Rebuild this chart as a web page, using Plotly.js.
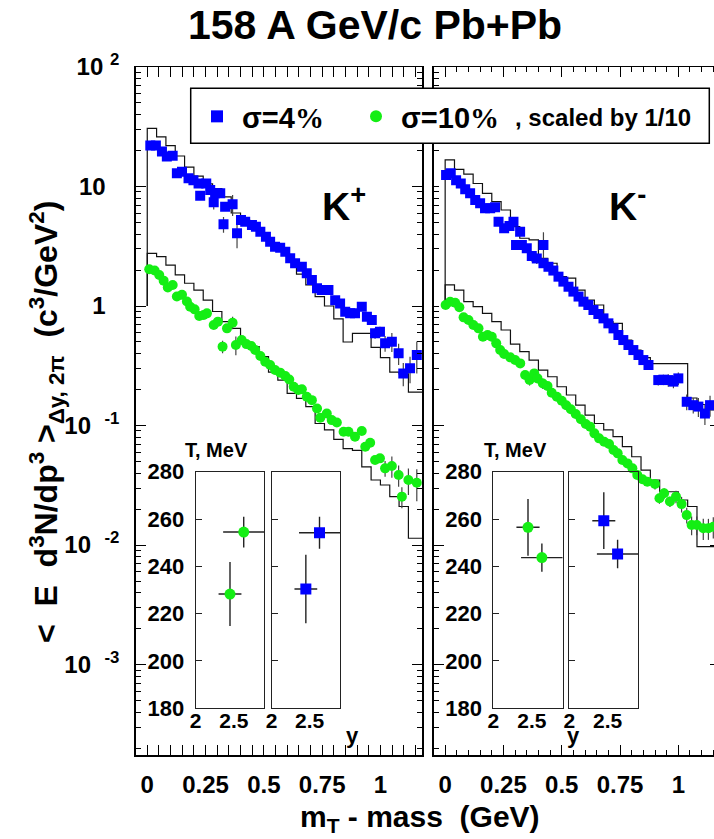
<!DOCTYPE html>
<html><head><meta charset="utf-8">
<script src="https://cdn.plot.ly/plotly-3.0.1.min.js"></script>
<style>html,body{margin:0;padding:0;overflow:hidden;background:#fff}#chart{width:722px;height:839px}</style>
</head><body><div id="chart"></div>
<script>
// ---------------- DATA ----------------
// K+ , sigma = 4% (blue squares)
const kpX4 = [0.013,0.037,0.063,0.084,0.109,0.127,0.149,0.177,0.198,0.220,0.227,0.253,0.270,0.285,0.291,0.313,0.327,0.334,0.366,0.385,0.402,0.420,0.449,0.466,0.485,0.509,0.527,0.548,0.570,0.592,0.613,0.634,0.663,0.684,0.706,0.728,0.748,0.777,0.806,0.827,0.849,0.870,0.891,0.920,0.942,0.963,0.977,0.998,1.020,1.049,1.078,1.098,1.127,1.156];
const kpY4 = [22.0,22.0,19.6,17.8,18.1,12.9,13.3,11.7,11.3,10.6,8.38,10.6,9.35,7.37,8.77,8.77,4.83,6.78,7.09,4.06,5.25,5.08,4.76,4.61,4.19,3.80,3.45,3.14,3.08,2.85,2.51,2.28,2.13,1.88,1.65,1.41,1.36,1.36,1.12,1.05,0.897,0.868,0.868,0.987,0.814,0.764,0.591,0.610,0.487,0.503,0.402,0.273,0.301,0.389];
const kpE4 = [0,0,0,0,0,0,0,0,0,0,0,0,0,0.13,0,0,0.15,0,0.2,0.25,0,0,0,0,0,0,0,0,0,0,0,0,0,0,0,0,0,0,0,0,0.05,0.05,0.05,0.08,0.06,0.06,0.1,0.1,0.15,0.18,0.2,0.22,0.25,0.3];
// K+ , sigma = 10% scaled by 1/10 (green circles)
const kpX10 = [0.0085,0.0316,0.0515,0.0703,0.0882,0.109,0.127,0.149,0.170,0.184,0.203,0.223,0.242,0.256,0.285,0.303,0.323,0.342,0.366,0.380,0.405,0.425,0.446,0.463,0.485,0.506,0.527,0.548,0.570,0.592,0.609,0.628,0.648,0.663,0.684,0.706,0.728,0.742,0.770,0.791,0.813,0.842,0.863,0.891,0.920,0.935,0.956,0.977,0.998,1.020,1.049,1.078,1.092,1.120,1.156];
const kpY10 = [2.03,1.98,1.82,1.63,1.43,1.50,1.20,1.24,1.09,0.987,0.938,0.825,0.841,0.868,0.694,0.740,0.457,0.650,0.725,0.472,0.519,0.48,0.463,0.428,0.382,0.342,0.321,0.291,0.277,0.260,0.243,0.211,0.198,0.201,0.174,0.163,0.139,0.116,0.126,0.111,0.106,0.0888,0.0888,0.0806,0.0900,0.0665,0.0718,0.0514,0.0531,0.0438,0.0458,0.0385,0.0254,0.0350,0.0332];
const kpE10 = [0,0,0,0,0,0,0,0,0,0,0,0,0,0,0,0,0.12,0,0.12,0.18,0,0,0,0,0,0,0,0,0,0,0,0,0,0,0,0,0,0,0,0,0,0,0,0,0,0,0,0,0,0.15,0.2,0.2,0.2,0.25,0.3];
// K- , sigma = 4%
const kmX4 = [0.004,0.024,0.047,0.067,0.086,0.107,0.129,0.150,0.171,0.193,0.214,0.229,0.253,0.276,0.293,0.304,0.3215,0.329,0.350,0.3715,0.393,0.4215,0.4215,0.443,0.464,0.486,0.507,0.529,0.550,0.572,0.593,0.614,0.636,0.657,0.679,0.700,0.722,0.743,0.764,0.786,0.807,0.829,0.850,0.872,0.914,0.936,0.957,0.979,1.000,1.036,1.064,1.086,1.114,1.136];
const kmY4 = [12.5,12.9,11.3,10.6,9.47,8.77,7.71,7.23,6.57,6.57,6.69,5.08,4.47,4.67,5.08,3.24,4.19,3.24,3.04,2.62,2.50,3.24,2.28,2.13,1.98,1.76,1.60,1.45,1.32,1.20,1.087,1.02,0.926,0.857,0.788,0.716,0.650,0.572,0.519,0.472,0.428,0.389,0.353,0.321,0.240,0.242,0.240,0.233,0.248,0.158,0.148,0.144,0.126,0.148];
const kmE4 = [0,0,0,0,0,0,0,0,0,0,0,0,0,0,0,0.08,0,0.08,0.06,0.1,0.1,0.28,0,0,0,0,0,0,0,0,0,0,0,0,0,0,0,0,0,0,0,0,0,0,0.1,0.1,0.12,0.12,0.12,0.15,0.15,0.18,0.2,0.2];
// K- , sigma = 10% scaled by 1/10
const kmX10 = [0.002,0.0214,0.043,0.061,0.079,0.100,0.121,0.143,0.162,0.182,0.200,0.219,0.236,0.253,0.279,0.300,0.322,0.343,0.362,0.382,0.396,0.419,0.439,0.457,0.479,0.500,0.519,0.539,0.560,0.582,0.603,0.622,0.640,0.660,0.682,0.703,0.722,0.740,0.760,0.782,0.803,0.824,0.846,0.867,0.900,0.919,0.939,0.964,0.990,1.014,1.036,1.057,1.079,1.107,1.129,1.150];
const kmY10 = [1.02,1.087,1.066,0.975,0.804,0.763,0.694,0.650,0.554,0.572,0.554,0.487,0.428,0.397,0.372,0.353,0.331,0.265,0.240,0.273,0.248,0.225,0.214,0.188,0.174,0.161,0.148,0.137,0.125,0.113,0.103,0.0978,0.0860,0.0781,0.0732,0.0700,0.0624,0.0585,0.0514,0.0482,0.0438,0.0385,0.0355,0.0339,0.0324,0.0246,0.0271,0.0231,0.0254,0.0220,0.0178,0.0147,0.0147,0.0138,0.0138,0.0142];
const kmE10 = [0,0,0,0,0,0,0,0,0,0,0,0,0,0,0,0,0,0,0.1,0,0,0.1,0,0,0,0,0,0,0,0,0,0,0,0,0,0,0,0,0,0,0,0,0,0,0.1,0.1,0.1,0.1,0.12,0.15,0.15,0.18,0.18,0.2,0.2,0.2];

// model histograms (black steps), bin edges in GeV
const histEdges = [0,0.04,0.08,0.12,0.16,0.20,0.24,0.28,0.32,0.36,0.40,0.44,0.48,0.52,0.56,0.60,0.64,0.68,0.72,0.76,0.80,0.84,0.88,0.92,0.96,1.00,1.04,1.08,1.12,1.16,1.20];
const histFloor = 1;
const kpHist4 = [30.7,26.0,22.0,18.0,14.5,12.2,10.5,9.6,8.2,6.0,5.2,4.5,3.9,3.3,2.9,2.4,1.85,1.5,1.2,1.0,0.78,0.50,0.59,0.59,0.45,0.37,0.28,0.27,0.19,0.19];
const kpHist10 = [2.76,2.59,2.2,1.82,1.55,1.36,1.12,0.90,0.74,0.65,0.49,0.457,0.377,0.28,0.24,0.186,0.169,0.144,0.104,0.092,0.0766,0.064,0.062,0.045,0.035,0.0318,0.0254,0.021,0.0114,0.0114];
const kmHist4 = [16.7,13.9,12.7,10.6,8.77,7.46,6.36,4.61,3.69,3.57,2.5,2.28,1.76,1.71,1.36,1.12,1.02,0.74,0.716,0.519,0.428,0.37,0.33,0.33,0.33,0.33,0.17,0.15,0.135,0.135];
const kmHist10 = [1.50,1.36,1.09,0.987,0.868,0.74,0.63,0.48,0.415,0.353,0.291,0.256,0.211,0.18,0.148,0.122,0.104,0.092,0.0806,0.0665,0.0548,0.0424,0.035,0.0279,0.0279,0.0238,0.021,0.0097,0.0097,0.0097];

// inset: inverse slope T (MeV) vs rapidity y
const insetRap = [2.45, 2.63];
const insetRapErr = [0.15, 0.27];
const kpT10 = [228.3, 254.5], kpT10Err = [13.5, 6.5];
const kpT4  = [230.4, 254.2], kpT4Err  = [14.5, 6.8];
const kmT10 = [256.5, 243.7], kmT10Err = [12, 6];
const kmT4  = [259.3, 245.2], kmT4Err  = [12, 6];

// tick labels
const NB = '\u00a0';
const xTickVals = [0, 0.25, 0.5, 0.75, 1];
const xTickText = ['0', '0.25', '0.5', '0.75', '1'];
const yTickVals = [0.001, 0.01, 0.1, 1, 10, 100];
const yTickText = ['10'+NB+NB+'<sup>-3</sup>','10'+NB+NB+'<sup>-2</sup>','10'+NB+NB+'<sup>-1</sup>','','','10'+NB+'<sup>2</sup>'];
const yPlainTickVals = [1, 10];
const yPlainTickText = ['1', '10'];
const insetTickVals = [180, 200, 220, 240, 260, 280];
const insetXTickVals = [2, 2.5];
const insetXTickText = ['2', '2.5'];
const legendNames = ['σ=4<span style="font-family:Liberation Serif">%</span>', 'σ=10<span style="font-family:Liberation Serif">%</span>'];
const legendNote = ', scaled by 1/10';

// ---------------- STYLE ----------------
const W = 722, H = 839;
const FONT = 'Liberation Sans, Arial, Helvetica, sans-serif';
const BLUE = 'rgb(0,0,255)', GREEN = 'rgb(20,238,20)';
const px = v => v / W, py = v => 1 - v / H;
const mainYDom = [py(755), py(67)];
const insetYDom = [py(708.3), py(471.7)];

function histTrace(vals, xa, ya) {
  const hx = [histEdges[0]].concat(histEdges);
  const hy = [histFloor].concat(vals, [vals[vals.length - 1]]);
  return {x: hx, y: hy, xaxis: xa, yaxis: ya, type: 'scatter', mode: 'lines',
    line: {shape: 'hv', color: '#111', width: 1.2}, showlegend: false, hoverinfo: 'skip'};
}
function dataTrace(xs, ys, rel, sym, col, xa, ya, name, legend) {
  return {x: xs, y: ys, xaxis: xa, yaxis: ya, type: 'scatter', mode: 'markers', name: name,
    showlegend: legend,
    marker: {symbol: sym, size: 10, color: col, line: {width: 0}},
    error_y: {type: 'data', array: ys.map((v, i) => v * rel[i]), color: '#444', thickness: 1.2, width: 0},
    cliponaxis: true};
}
function insetTrace(ts, errs, sym, col, xa, ya) {
  return {x: insetRap, y: ts, xaxis: xa, yaxis: ya, type: 'scatter', mode: 'markers', showlegend: false,
    marker: {symbol: sym, size: 11, color: col},
    error_x: {type: 'data', array: insetRapErr, color: '#222', thickness: 1.4, width: 0},
    error_y: {type: 'data', array: errs, color: '#222', thickness: 1.4, width: 0}};
}

const traces = [
  histTrace(kpHist4, 'x', 'y'), histTrace(kpHist10, 'x', 'y'),
  histTrace(kmHist4, 'x2', 'y2'), histTrace(kmHist10, 'x2', 'y2'),
  dataTrace(kpX4, kpY4, kpE4, 'square', BLUE, 'x', 'y', legendNames[0], true),
  dataTrace(kpX10, kpY10, kpE10, 'circle', GREEN, 'x', 'y', legendNames[1], true),
  dataTrace(kmX4, kmY4, kmE4, 'square', BLUE, 'x2', 'y2', legendNames[0], false),
  dataTrace(kmX10, kmY10, kmE10, 'circle', GREEN, 'x2', 'y2', legendNames[1], false),
  insetTrace(kpT10, kpT10Err, 'circle', GREEN, 'x3', 'y3'),
  insetTrace(kpT4, kpT4Err, 'square', BLUE, 'x4', 'y4'),
  insetTrace(kmT10, kmT10Err, 'circle', GREEN, 'x5', 'y5'),
  insetTrace(kmT4, kmT4Err, 'square', BLUE, 'x6', 'y6'),
  // invisible carrier for the overlaid label-only y axis
  {x: [null], y: [null], xaxis: 'x', yaxis: 'y7', type: 'scatter', mode: 'markers', showlegend: false, hoverinfo: 'skip'}
];

const bold = (s) => ({family: FONT, size: s, color: 'black', weight: 'bold'});

function mainX(dom, anchor) {
  return {domain: dom, anchor: anchor, range: [-0.05, 1.18], tickmode: 'array', tickvals: xTickVals, ticktext: xTickText,
    ticks: 'inside', ticklen: 10, tickwidth: 1, tickcolor: 'black',
    minor: {dtick: 0.05, ticks: 'inside', ticklen: 5, tickwidth: 1, tickcolor: 'black', showgrid: false},
    showline: true, linecolor: 'black', linewidth: 1.5, mirror: 'allticks', showgrid: false, zeroline: false,
    tickfont: bold(24), ticklabelstandoff: 8, automargin: false};
}
function mainY(anchor, labels) {
  return {domain: mainYDom, anchor: anchor, type: 'log', range: [-3.757, 2], tickmode: 'array', tickvals: yTickVals, ticktext: yTickText,
    ticks: 'inside', ticklen: 10, tickwidth: 1, tickcolor: 'black',
    minor: {dtick: 'D1', ticks: 'inside', ticklen: 5, tickwidth: 1, tickcolor: 'black', showgrid: false},
    showline: true, linecolor: 'black', linewidth: 1.5, mirror: 'allticks', showgrid: false, zeroline: false,
    showticklabels: labels, tickfont: bold(24), ticklabelstandoff: 10, automargin: false};
}
function insetX(dom, anchor) {
  return {domain: dom, anchor: anchor, range: [2, 2.9], tickmode: 'array', tickvals: insetXTickVals, ticktext: insetXTickText,
    ticks: '', showline: true, linecolor: '#222', linewidth: 1, mirror: true, showgrid: false, zeroline: false,
    tickfont: bold(21), ticklabelstandoff: -7, automargin: false};
}
function insetY(anchor, labels) {
  return {domain: insetYDom, anchor: anchor, range: [180, 280], tickmode: 'array', tickvals: insetTickVals,
    ticks: 'inside', ticklen: 6, tickwidth: 1, tickcolor: '#222',
    showline: true, linecolor: '#222', linewidth: 1, mirror: true, showgrid: false, zeroline: false,
    showticklabels: labels, tickfont: bold(22), ticklabelstandoff: 6, automargin: false};
}

const ann = (text, x, y, size, opts) => Object.assign({text: text, x: x, y: y, xref: 'paper', yref: 'paper',
  showarrow: false, font: bold(size), xanchor: 'center', yanchor: 'middle'}, opts || {});

const layout = {
  width: W, height: H, margin: {l: 0, r: 0, t: 0, b: 0, autoexpand: false},
  paper_bgcolor: 'white', plot_bgcolor: 'rgba(0,0,0,0)',
  showlegend: true,
  legend: {orientation: 'h', x: px(192), y: py(91), xanchor: 'left', yanchor: 'top',
    bgcolor: 'rgba(0,0,0,0)', borderwidth: 0, font: bold(29), itemsizing: 'constant',
    itemwidth: 40, entrywidth: 104, traceorder: 'normal'},
  xaxis: mainX([px(135.6), px(422.4)], 'y'),
  yaxis: mainY('x', true),
  yaxis7: {overlaying: 'y', side: 'left', anchor: 'x', type: 'log', range: [-3.757, 2], tickmode: 'array',
    tickvals: yPlainTickVals, ticktext: yPlainTickText, ticks: '', showline: false, showgrid: false, zeroline: false,
    tickfont: bold(24), ticklabelstandoff: 29, automargin: false},
  xaxis2: mainX([px(433.5), px(720.3)], 'y2'),
  yaxis2: mainY('x2', false),
  xaxis3: insetX([px(195.7), px(264.3)], 'y3'), yaxis3: insetY('x3', true),
  xaxis4: insetX([px(271.7), px(340)], 'y4'), yaxis4: insetY('x4', false),
  xaxis5: insetX([px(493.3), px(562.7)], 'y5'), yaxis5: insetY('x5', true),
  xaxis6: insetX([px(569.3), px(638.3)], 'y6'), yaxis6: insetY('x6', false),
  shapes: [
    {type: 'rect', xref: 'paper', yref: 'paper', x0: px(190.7), x1: px(709.3), y0: py(143.3), y1: py(88.3),
      line: {color: 'black', width: 1.5}, fillcolor: 'white', layer: 'above'}
  ],
  annotations: [
    ann(legendNote, px(513), py(117), 24, {xanchor: 'left'}),
    ann('158 A GeV/c Pb+Pb', px(375), py(25), 41),
    ann('<'+NB+NB+'E'+NB+NB+'d<sup>3</sup>N/dp<sup>3</sup>'+NB+'><sub>\u0394y, 2\u03c0</sub>'+NB+NB+'(c<sup>3</sup>/GeV<sup>2</sup>)', px(46), py(422), 32, {textangle: -90}),
    ann('m<sub>T</sub> - mass'+NB+NB+'(GeV)', px(420), py(818), 30),
    ann('K<sup>+</sup>', px(320), py(203), 39, {xanchor: 'left'}),
    ann('K<sup>-</sup>', px(607), py(203), 39, {xanchor: 'left'}),
    ann('T, MeV', px(183), py(450), 20, {xanchor: 'left'}),
    ann('T, MeV', px(481.7), py(450), 20, {xanchor: 'left'}),
    ann('y', px(352.5), py(735), 22),
    ann('y', px(573.5), py(735), 22)
  ]
};

Plotly.newPlot('chart', traces, layout, {staticPlot: true, displayModeBar: false});
</script></body></html>
